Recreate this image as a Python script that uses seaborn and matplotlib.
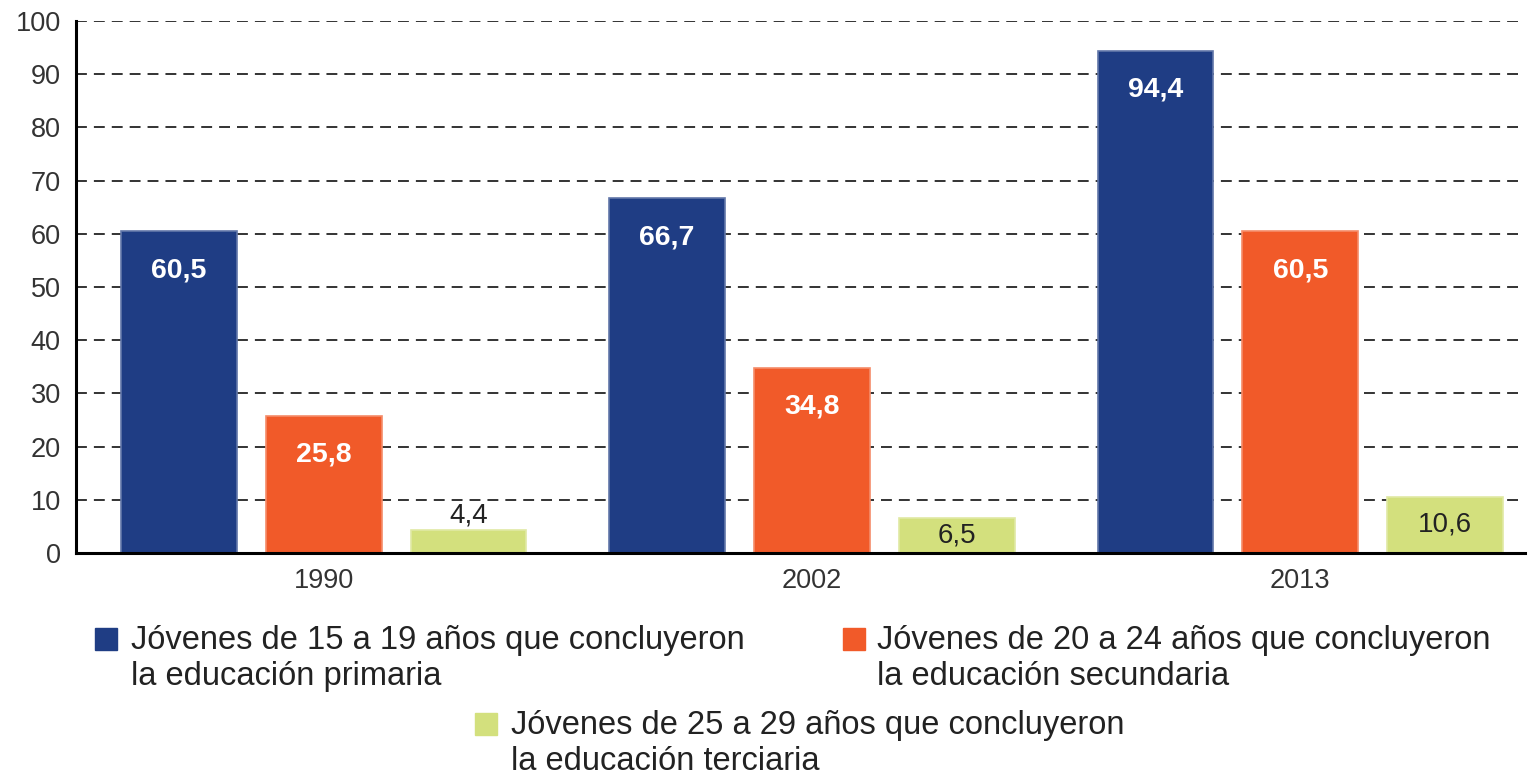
import numpy as np
import pandas as pd
import matplotlib
matplotlib.use('Agg')
import matplotlib.pyplot as plt
import matplotlib.colors as mcolors
from matplotlib.patches import Rectangle
import seaborn as sns

anios = ['1990', '2002', '2013']
grupos = ['Jóvenes de 15 a 19 años que concluyeron\nla educación primaria',
          'Jóvenes de 20 a 24 años que concluyeron\nla educación secundaria',
          'Jóvenes de 25 a 29 años que concluyeron\nla educación terciaria']
primaria = [60.5, 66.7, 94.4]
secundaria = [25.8, 34.8, 60.5]
terciaria = [4.4, 6.5, 10.6]
colores = ['#1f3d84', '#f15a29', '#d3e07d']

df = pd.DataFrame({
    'anio': anios * 3,
    'grupo': np.repeat(grupos, len(anios)),
    'valor': primaria + secundaria + terciaria,
})

sns.set_style('white')
plt.rcParams['font.family'] = ['Liberation Sans', 'DejaVu Sans']

W, H = 1532, 776
fig = plt.figure(figsize=(W / 100, H / 100), dpi=100)
ax = fig.add_axes([76 / W, 223 / H, 1449 / W, 532 / H])

sns.barplot(data=df, x='anio', y='valor', hue='grupo', hue_order=grupos,
            palette=colores, saturation=1, width=0.89, gap=0.2,
            legend=False, ax=ax)

# borde claro de las barras
for cont, c in zip(ax.containers, colores):
    borde = tuple(np.array(mcolors.to_rgb(c)) * 0.7 + 0.3)
    for bar in cont:
        bar.set_edgecolor(borde)
        bar.set_linewidth(1.2)

ax.set_ylim(0, 100)
ax.set_xlim(-0.507, 2.46)
ax.set_yticks(range(0, 101, 10))
ax.yaxis.grid(True, linestyle=(0, (5.6, 3.6)), color='#333333', linewidth=1.4)
ax.set_axisbelow(True)
ax.set_xlabel('')
ax.set_ylabel('')

for s in ['top', 'right']:
    ax.spines[s].set_visible(False)
for s in ['left', 'bottom']:
    ax.spines[s].set_linewidth(2.2)
    ax.spines[s].set_color('black')

ax.tick_params(axis='y', length=7, width=2, direction='out', labelsize=19.5,
               labelcolor='#333333', color='black', pad=4)
ax.tick_params(axis='x', length=0, labelsize=19.5, labelcolor='#333333', pad=11)

# etiquetas de valores
for i, cont in enumerate(ax.containers):
    for bar in cont:
        h = bar.get_height()
        txt = f'{h:.1f}'.replace('.', ',')
        xc = bar.get_x() + bar.get_width() / 2
        if i < 2:
            ax.annotate(txt, (xc, h), xytext=(0, -28), textcoords='offset points',
                        ha='center', va='center', color='white',
                        fontsize=20.5, fontweight='bold')
        elif h < 5:
            ax.annotate(txt, (xc, h), xytext=(0, 1), textcoords='offset points',
                        ha='center', va='bottom', color='#222222', fontsize=20)
        else:
            ax.text(xc, h / 2, txt, ha='center', va='center',
                    color='#222222', fontsize=20)

# leyenda: base de la ultima linea; cuadro junto a la primera
posiciones = [(95, 685, 131), (843, 685, 877), (475, 770, 511)]
salto = 35
for (px, base, tx), c, lab in zip(posiciones, colores, grupos):
    fig.add_artist(Rectangle((px / W, 1 - (base - salto) / H), 22 / W, 22 / H,
                             transform=fig.transFigure, color=c))
    fig.text(tx / W, 1 - base / H, lab, ha='left', va='baseline',
             fontsize=23.5, linespacing=1.2, color='#222222')

fig.savefig('out.png', dpi=100)
